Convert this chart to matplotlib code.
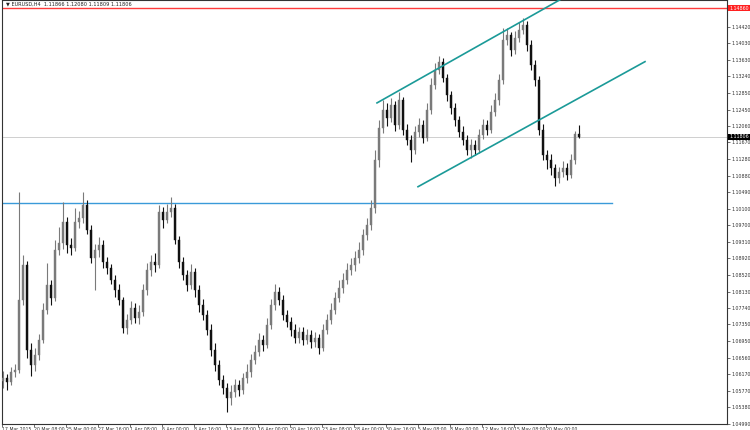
import matplotlib.pyplot as plt
import numpy as np

# EURUSD H4 candles (one candle per ~4 px)
closes = [1.0608, 1.0598, 1.0622, 1.0627, 1.0793, 1.0876, 1.0674, 1.0639, 1.0663, 1.0698,
          1.0770, 1.0829, 1.0798, 1.0912, 1.0929, 1.0979, 1.0924, 1.0917, 1.0979, 1.0988,
          1.1019, 1.0960, 1.0893, 1.0912, 1.0924, 1.0883, 1.0869, 1.0841, 1.0817, 1.0793,
          1.0727, 1.0746, 1.0774, 1.0750, 1.0765, 1.0817, 1.0865, 1.0883, 1.0876, 1.1002,
          1.0983, 1.1002, 1.1012, 1.0936, 1.0883, 1.0853, 1.0829, 1.0860, 1.0817, 1.0781,
          1.0758, 1.0722, 1.0674, 1.0639, 1.0603, 1.0584, 1.0560, 1.0575, 1.0591, 1.0579,
          1.0608, 1.0622, 1.0651, 1.0670, 1.0698, 1.0686, 1.0734, 1.0781, 1.0812, 1.0793,
          1.0758, 1.0741, 1.0722, 1.0703, 1.0717, 1.0698, 1.0710, 1.0693, 1.0703, 1.0679,
          1.0722, 1.0746, 1.0770, 1.0798, 1.0822, 1.0841, 1.0865, 1.0876, 1.0893, 1.0912,
          1.0948, 1.0971, 1.1012, 1.1126, 1.1202, 1.1245, 1.1226, 1.1257, 1.1209, 1.1268,
          1.1197, 1.1173, 1.1150, 1.1192, 1.1209, 1.1178, 1.1245, 1.1304, 1.1340, 1.1359,
          1.1321, 1.1280, 1.1249, 1.1221, 1.1192, 1.1173, 1.1150, 1.1161, 1.1150, 1.1185,
          1.1209, 1.1197, 1.1240, 1.1268, 1.1316, 1.1411, 1.1423, 1.1387, 1.1416, 1.1435,
          1.1447, 1.1399, 1.1352, 1.1316, 1.1197, 1.1138, 1.1126, 1.1107, 1.1083, 1.1097,
          1.1107, 1.1090, 1.1126, 1.11866, 1.11806]

highs = [1.0625, 1.0618, 1.0634, 1.0640, 1.1050, 1.0900, 1.0885, 1.0690, 1.0680, 1.0712,
         1.0785, 1.0880, 1.0840, 1.0936, 1.0967, 1.1026, 1.0990, 1.0940, 1.1012, 1.1005,
         1.1050, 1.1030, 1.0970, 1.0925, 1.0943, 1.0935, 1.0895, 1.0878, 1.0852, 1.0830,
         1.0800, 1.0760, 1.0790, 1.0785, 1.0780, 1.0830, 1.0880, 1.0900, 1.0905, 1.1018,
         1.1015, 1.1020, 1.1037, 1.1020, 1.0945, 1.0895, 1.0865, 1.0878, 1.0870, 1.0828,
         1.0795, 1.0770, 1.0735, 1.0690, 1.0650, 1.0615, 1.0595, 1.0590, 1.0605, 1.0602,
         1.0620, 1.0640, 1.0665, 1.0685, 1.0715, 1.0710, 1.0750, 1.0795, 1.0830, 1.0825,
         1.0805, 1.0770, 1.0752, 1.0735, 1.0730, 1.0728, 1.0725, 1.0722, 1.0718, 1.0712,
         1.0735, 1.0760, 1.0785, 1.0812, 1.0840, 1.0858, 1.0880, 1.0892, 1.0910, 1.0930,
         1.0962, 1.0988, 1.1031, 1.1150, 1.1221, 1.1269, 1.1260, 1.1273, 1.1265, 1.1288,
         1.1275, 1.1210, 1.1185, 1.1205, 1.1225, 1.1220, 1.1260, 1.1320, 1.1355, 1.1373,
         1.1368, 1.1330, 1.1290, 1.1260, 1.1230, 1.1205, 1.1185, 1.1175, 1.1172, 1.1198,
         1.1222, 1.1220, 1.1255, 1.1285, 1.1330, 1.1440, 1.1438, 1.1430, 1.1432, 1.1454,
         1.1463, 1.1455, 1.1410, 1.1362, 1.1325, 1.1210, 1.1150, 1.1140, 1.1115, 1.1110,
         1.1122, 1.1118, 1.1140, 1.1195, 1.1208]

lows = [1.0585, 1.0580, 1.0590, 1.0610, 1.0620, 1.0780, 1.0655, 1.0612, 1.0625, 1.0650,
        1.0690, 1.0760, 1.0780, 1.0790, 1.0900, 1.0915, 1.0905, 1.0900, 1.0910, 1.0965,
        1.0975, 1.0950, 1.0880, 1.0817, 1.0895, 1.0870, 1.0855, 1.0830, 1.0800, 1.0780,
        1.0715, 1.0712, 1.0735, 1.0738, 1.0735, 1.0755, 1.0805, 1.0850, 1.0860, 1.0870,
        1.0965, 1.0975, 1.0990, 1.0925, 1.0870, 1.0840, 1.0815, 1.0820, 1.0800, 1.0765,
        1.0745, 1.0710, 1.0660, 1.0625, 1.0590, 1.0570, 1.0527, 1.0544, 1.0562, 1.0565,
        1.0570, 1.0595, 1.0610, 1.0640, 1.0660, 1.0672, 1.0678, 1.0725, 1.0770, 1.0780,
        1.0745, 1.0728, 1.0708, 1.0690, 1.0692, 1.0685, 1.0688, 1.0680, 1.0682, 1.0665,
        1.0672, 1.0712, 1.0735, 1.0760, 1.0788, 1.0810, 1.0830, 1.0852, 1.0862, 1.0880,
        1.0900, 1.0935, 1.0960, 1.1000, 1.1110, 1.1190, 1.1205, 1.1215, 1.1195, 1.1200,
        1.1185, 1.1160, 1.1121, 1.1140, 1.1180, 1.1165, 1.1170, 1.1235, 1.1295, 1.1330,
        1.1310, 1.1265, 1.1235, 1.1205, 1.1180, 1.1160, 1.1138, 1.1131, 1.1138, 1.1142,
        1.1175, 1.1185, 1.1190, 1.1230, 1.1255, 1.1305, 1.1398, 1.1372, 1.1378, 1.1405,
        1.1425, 1.1385, 1.1340, 1.1300, 1.1185, 1.1125, 1.1105, 1.1090, 1.1064, 1.1070,
        1.1085, 1.1078, 1.1082, 1.1115, 1.1178]

first_open = 1.0600
opens = [first_open] + closes[:-1]

time_labels = ["17 Mar 2015", "20 Mar 08:00", "25 Mar 00:00", "27 Mar 16:00", "1 Apr 08:00",
               "6 Apr 00:00", "8 Apr 16:00", "13 Apr 08:00", "16 Apr 00:00", "20 Apr 16:00",
               "23 Apr 08:00", "28 Apr 00:00", "30 Apr 16:00", "5 May 08:00", "8 May 00:00",
               "12 May 16:00", "15 May 08:00", "20 May 00:00"]
price_ticks = [1.14420, 1.14030, 1.13630, 1.13240, 1.12850, 1.12450, 1.12060, 1.11670,
               1.11280, 1.10880, 1.10490, 1.10100, 1.09700, 1.09310, 1.08920, 1.08520,
               1.08130, 1.07740, 1.07350, 1.06950, 1.06560, 1.06170, 1.05770, 1.05380, 1.04990]

resistance_level = 1.14860
support_level = 1.10240
last_price = 1.11806
header = "\u25bc EURUSD,H4  1.11866 1.12080 1.11809 1.11806"

# channel lines (bar index, price)
upper_channel = ([93.5, 139.25], [1.1261, 1.1506])
lower_channel = ([103.75, 160.5], [1.1062, 1.1359])
support_end = 152.25

fig = plt.figure(figsize=(7.5, 4.3), dpi=100)
ax = fig.add_axes([2/750, 6/430, 725/750, 424/430])

x = np.arange(len(closes))
o = np.array(opens); c = np.array(closes)
up = c >= o
col = np.where(up, '#7a7a7a', '#111111')

ax.vlines(x, lows, highs, colors=col, linewidth=0.8, zorder=3)
ax.bar(x, np.abs(c - o), bottom=np.minimum(o, c), width=0.55, color=col,
       edgecolor=col, linewidth=0.3, zorder=4)

# horizontal levels
ax.axhline(resistance_level, color='#ff3b3b', linewidth=1.0, zorder=2)
ax.axhline(last_price, color='#c8c8c8', linewidth=0.6, zorder=1)
ax.plot([-0.25, support_end], [support_level, support_level], color='#3a9ad9', linewidth=1.0, zorder=2)

# trend channel
ax.plot(upper_channel[0], upper_channel[1], color='#1b9a98', linewidth=1.2, zorder=5)
ax.plot(lower_channel[0], lower_channel[1], color='#1b9a98', linewidth=1.2, zorder=5)

ax.set_xlim(-0.25, 181)
ax.set_ylim(1.04985, 1.15054)

ax.yaxis.tick_right()
ax.set_yticks(price_ticks)
ax.set_yticklabels([f"{p:.5f}" for p in price_ticks])
ax.tick_params(axis='y', length=2, width=0.5, labelsize=3.4, pad=1.5, colors='#333333')

xt = [-0.25 + 8 * k for k in range(len(time_labels))]
ax.set_xticks(xt)
ax.set_xticklabels(time_labels, ha='left')
ax.tick_params(axis='x', length=2.5, width=0.5, labelsize=3.3, pad=0.0, colors='#333333')

for s in ax.spines.values():
    s.set_linewidth(0.8)
    s.set_color('#333333')

# price labels on the right scale
ax.text(1.003, resistance_level, f"{resistance_level:.5f}", transform=ax.get_yaxis_transform(),
        fontsize=3.4, color='white', va='center', ha='left',
        bbox=dict(boxstyle='square,pad=0.15', fc='#ff2020', ec='none'))
ax.text(1.003, last_price, f"{last_price:.5f}", transform=ax.get_yaxis_transform(),
        fontsize=3.4, color='white', va='center', ha='left',
        bbox=dict(boxstyle='square,pad=0.15', fc='black', ec='none'))

ax.text(0.006, 0.997, header, transform=ax.transAxes, fontsize=3.6, va='top', ha='left',
        color='#222222')

fig.savefig('out.png', dpi=100)
